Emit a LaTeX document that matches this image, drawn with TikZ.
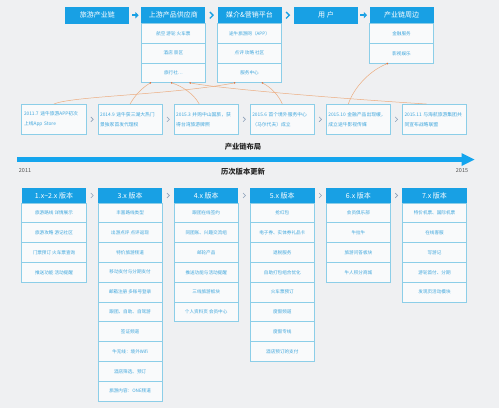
\documentclass[tikz,border=0pt]{standalone}
\usepackage{fontspec}
\setmainfont{Noto Sans CJK SC}
\usetikzlibrary{arrows.meta,calc}
\definecolor{bgc}{RGB}{239,240,242}
\definecolor{hdrc}{RGB}{24,160,228}
\definecolor{barc}{RGB}{20,165,238}
\definecolor{cellb}{RGB}{140,206,232}
\definecolor{cellf}{RGB}{249,250,251}
\definecolor{cellt}{RGB}{62,165,220}
\definecolor{chevc}{RGB}{140,160,185}
\definecolor{curvc}{RGB}{236,172,128}
\definecolor{dotc}{RGB}{222,110,60}
\definecolor{labc}{RGB}{40,40,40}
\begin{document}
\begin{tikzpicture}[x=1pt,y=-1pt,
  hdr/.style={fill=hdrc, text=white, minimum width=64pt, minimum height=16.6pt, inner sep=0pt, anchor=north, font=\fontsize{7}{8}\selectfont},
  cell/.style={draw=cellb, fill=cellf, line width=0.7pt, text=cellt, minimum width=64pt, minimum height=19.7pt, inner sep=0pt, anchor=north, font=\fontsize{4.6}{5.5}\selectfont},
  vhdr/.style={hdr, minimum width=64.5pt, minimum height=14.6pt},
  vcell/.style={cell, minimum width=64.5pt, minimum height=19.8pt},
  tbox/.style={draw=cellb, fill=cellf, line width=0.7pt, text=cellt, text width=60pt, minimum height=30pt, align=left, inner xsep=2.25pt, inner ysep=2pt, anchor=north, font=\fontsize{4.8}{10}\selectfont},
  curve/.style={draw=curvc, line width=0.5pt},
  lab/.style={text=labc, inner sep=0pt, font=\bfseries\fontsize{7.3}{8}\selectfont},
  yr/.style={text=labc!80, inner sep=0pt, font=\fontsize{5.5}{6}\selectfont},
  gchev/.pic={\draw[chevc, line width=0.6pt] (-1.2,-2.4) -- (1.2,0) -- (-1.2,2.4);},
  bchev/.pic={\draw[hdrc, line width=1.3pt] (-1.6,-3.2) -- (1.6,0) -- (-1.6,3.2);},
  barrow/.pic={\draw[hdrc, line width=1.8pt, -{Triangle[length=3.2pt,width=6pt]}] (-3.3,0) -- (3.3,0);}
]
\fill[bgc] (0,0) rectangle (499,408);
\useasboundingbox (0,0) rectangle (499,408);

% ---------- top row ----------
\node[hdr] (a) at (97.3,6.7) {旅游产业链};
\node[hdr] (b) at (173.4,6.7) {上游产品供应商};
\foreach \t [count=\i] in {航空 游轮 火车票, 酒店 景区, {旅行社\ldots}}
  \node[cell] (b\i) at (173.4,{23.3+(\i-1)*19.6}) {\t};
\node[hdr] (c) at (249.5,6.7) {媒介\&营销平台};
\foreach \t [count=\i] in {途牛旅游网（APP）, 点评 攻略 社区, 服务中心}
  \node[cell] (c\i) at (249.5,{23.3+(\i-1)*19.6}) {\t};
\node[hdr] (d) at (326,6.7) {用 户};
\node[hdr] (e) at (401.5,6.7) {产业链周边};
\foreach \t [count=\i] in {金融服务, 影视娱乐}
  \node[cell] (e\i) at (401.5,{23.3+(\i-1)*19.9}) {\t};

\pic at ($(a.east)!0.5!(b.west)$) {barrow};
\pic at ($(b.east)!0.5!(c.west)$) {bchev};
\pic at ($(c.east)!0.5!(d.west)$) {bchev};
\pic at ($(d.east)!0.5!(e.west)$) {barrow};

% ---------- milestone boxes ----------
\node[tbox] (t1) at (54,104) {2011.7 途牛旅游APP初次\\上线App Store};
\node[tbox] (t2) at (130.1,104) {2014.9 途牛获三湖大热门\\景独家首发代理权};
\node[tbox] (t3) at (206.2,104) {2015.3 并购中山国旅，获\\得台湾旅游牌照};
\node[tbox] (t4) at (282.3,104) {2015.6 首个境外服务中心\\（马尔代夫）成立};
\node[tbox] (t5) at (358.4,104) {2015.10 金融产品出现缓，\\成立途牛影视传媒};
\node[tbox] (t6) at (434.5,104) {2015.11 与海航旅游集团共\\同宣布战略联盟};
\foreach \p/\q in {t1/t2,t2/t3,t3/t4,t4/t5,t5/t6}
  \pic at ($(\p.east)!0.5!(\q.west)$) {gchev};

% ---------- curves ----------
\coordinate (pb1) at ($(b3.south west)!0.145!(b3.south east)$);
\coordinate (pb2) at ($(b3.south west)!0.473!(b3.south east)$);
\coordinate (pb3) at ($(b3.south west)!0.76!(b3.south east)$);
\coordinate (pc1) at ($(c3.south west)!0.27!(c3.south east)$);
\coordinate (pc2) at ($(c3.south west)!0.70!(c3.south east)$);
\coordinate (pe1) at ($(e2.south west)!0.28!(e2.south east)$);
\draw[curve] (t1.north) .. controls (72,96) and (170,95) .. (pc1);
\draw[curve] (t2.north) .. controls (135,95) and (143,87) .. (pb1);
\draw[curve] ([xshift=-7pt]t3.north) .. controls (194,94) and (182,86) .. (pb2);
\draw[curve] (pb3) .. controls (215,88) and (330,98) .. ([xshift=-8pt]t6.north);
\draw[curve] (pc2) .. controls (272,88) and (279,96) .. (t4.north);
\draw[curve] (pe1) .. controls (366,72) and (352,92) .. ([xshift=-10pt]t5.north);
\foreach \p in {pb1,pb2,pb3,pc1,pc2,pe1}
  \fill[dotc] (\p) circle (0.9pt);

% ---------- labels & timeline ----------
\node[lab] (l1) at (243,146.5) {产业链布局};
\fill[barc] (17.3,156.8) rectangle (463,162.3);
\fill[barc] (461.5,153) -- (474.5,159.5) -- (461.5,166) -- cycle;
\node[yr] (y1) at (25,171) {2011};
\node[yr] (y2) at (462,171) {2015};
\node[lab] (l2) at (243,171.5) {历次版本更新};

% ---------- version columns ----------
\node[vhdr] (v1) at (54,188) {1.x\textasciitilde2.x 版本};
\foreach \t [count=\i] in {旅游路线 详情展示, 旅游攻略 游记社区, 门票预订 火车票查询, 推送功能 活动提醒}
  \node[vcell] (v1-\i) at (54,{202.6+(\i-1)*19.8}) {\t};
\node[vhdr] (v2) at (130.1,188) {3.x 版本};
\foreach \t [count=\i] in {丰富路线类型, 出游点评 点评返现, 特价旅游频道, 移动支付与分期支付, 邮箱注册 多账号登录, 跟团、自助、自驾游, 签证频道, 牛无线：境外Wifi, 酒店筛选、预订, 旅游内容：ONE频道}
  \node[vcell] (v2-\i) at (130.1,{202.6+(\i-1)*19.8}) {\t};
\node[vhdr] (v3) at (206.2,188) {4.x 版本};
\foreach \t [count=\i] in {跟团在线签约, 同团账、兴趣交流组, 邮轮产品, 推送功能与活动提醒, 三线旅游板块, 个人资料页 会员中心}
  \node[vcell] (v3-\i) at (206.2,{202.6+(\i-1)*19.8}) {\t};
\node[vhdr] (v4) at (282.3,188) {5.x 版本};
\foreach \t [count=\i] in {抢红包, 电子券、实体券礼品卡, 退税服务, 自助打包组合优化, 火车票预订, 度假频道, 度假专线, 酒店预订的支付}
  \node[vcell] (v4-\i) at (282.3,{202.6+(\i-1)*19.8}) {\t};
\node[vhdr] (v5) at (358.4,188) {6.x 版本};
\foreach \t [count=\i] in {会员俱乐部, 牛拉牛, 旅游问答板块, 牛人积分商城}
  \node[vcell] (v5-\i) at (358.4,{202.6+(\i-1)*19.8}) {\t};
\node[vhdr] (v6) at (434.5,188) {7.x 版本};
\foreach \t [count=\i] in {特价机票、国际机票, 在线客服, 写游记, 游轮首付、分期, 发现页活动模块}
  \node[vcell] (v6-\i) at (434.5,{202.6+(\i-1)*19.8}) {\t};
\foreach \p/\q in {v1/v2,v2/v3,v3/v4,v4/v5,v5/v6}
  \pic at ($(\p.east)!0.5!(\q.west)$) {gchev};
\end{tikzpicture}
\end{document}
